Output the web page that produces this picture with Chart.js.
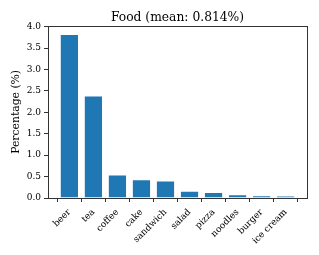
<!DOCTYPE html>
<html>
<head>
<meta charset="utf-8">
<script src="https://cdn.jsdelivr.net/npm/chart.js@4/dist/chart.umd.min.js"></script>
<style>
  html, body { margin: 0; padding: 0; background: #fff; }
  #wrap { width: 319px; height: 255px; }
</style>
</head>
<body>
<div id="wrap"><canvas id="chartFood"></canvas></div>
<script>
const foods = ['beer', 'tea', 'coffee', 'cake', 'sandwich', 'salad', 'pizza', 'noodles', 'burger', 'ice cream'];
const percentages = [3.83, 2.39, 0.55, 0.44, 0.41, 0.17, 0.14, 0.09, 0.065, 0.055];
const yTicks = [0, 0.5, 1, 1.5, 2, 2.5, 3, 3.5, 4];
const chartTitle = 'Food (mean: 0.814%)';

const serif = 'DejaVu Serif';

// full box round the plot, like matplotlib spines
const frame = {
	id: 'frame',
	afterDraw(chart) {
		const a = chart.chartArea;
		const ctx = chart.ctx;
		ctx.save();
		ctx.strokeStyle = '#333';
		ctx.lineWidth = 1;
		ctx.strokeRect(Math.round(a.left) + 0.5, Math.round(a.top) + 0.5,
			Math.round(a.right - a.left), Math.round(a.bottom - a.top));
		ctx.restore();
	}
};

let ctx = document.getElementById('chartFood').getContext('2d');

let chart = new Chart(ctx, {
	type: 'bar',
	data: {
		datasets: [
			{
				label: 'Percentage',
				data: percentages.map(function (v, i) {
					return { x: i, y: v };
				}),
				backgroundColor: '#1f77b4',
				borderColor: 'rgba(255,255,255,0.45)',
				borderWidth: 1,
				barPercentage: 0.8,
				categoryPercentage: 1,
			},
		],
	},
	options: {
		responsive: true,
		maintainAspectRatio: false,
		animation: false,
		layout: { padding: { left: 0, right: 12, top: 0, bottom: 0 } },
		plugins: {
			legend: { display: false },
			tooltip: { enabled: false },
			title: {
				display: true,
				fullSize: false,
				text: chartTitle,
				color: '#000',
				font: { family: serif, size: 12.3, weight: 'normal' },
				padding: { top: 10, bottom: 1 },
			},
		},
		scales: {
			x: {
				type: 'linear',
				min: -0.89,
				max: 9.89,
				offset: false,
				afterBuildTicks: function (scale) {
					scale.ticks = foods.map(function (f, i) { return { value: i }; });
				},
				afterFit: function (scale) { scale.height = 57; },
				ticks: {
					autoSkip: false,
					maxRotation: 45,
					minRotation: 45,
					color: '#000',
					padding: 5,
					font: { family: serif, size: 9 },
					callback: function (v) { return foods[v]; },
				},
				grid: {
					drawOnChartArea: false,
					drawTicks: true,
					tickLength: 4,
					color: '#333',
				},
				border: { display: false },
			},
			y: {
				min: 0,
				max: 4.02,
				afterBuildTicks: function (scale) {
					scale.ticks = yTicks.map(function (v) { return { value: v }; });
				},
				afterFit: function (scale) { scale.width = 48; },
				ticks: {
					color: '#000',
					padding: 3,
					font: { family: serif, size: 9 },
					callback: function (v) { return v.toFixed(1); },
				},
				title: {
					display: true,
					text: 'Percentage (%)',
					color: '#000',
					font: { family: serif, size: 10.8 },
					padding: { top: 10, bottom: 0 },
				},
				grid: {
					drawOnChartArea: false,
					drawTicks: true,
					tickLength: 4,
					color: '#333',
				},
				border: { display: false },
			},
		},
	},
	plugins: [frame],
});
</script>
</body>
</html>
